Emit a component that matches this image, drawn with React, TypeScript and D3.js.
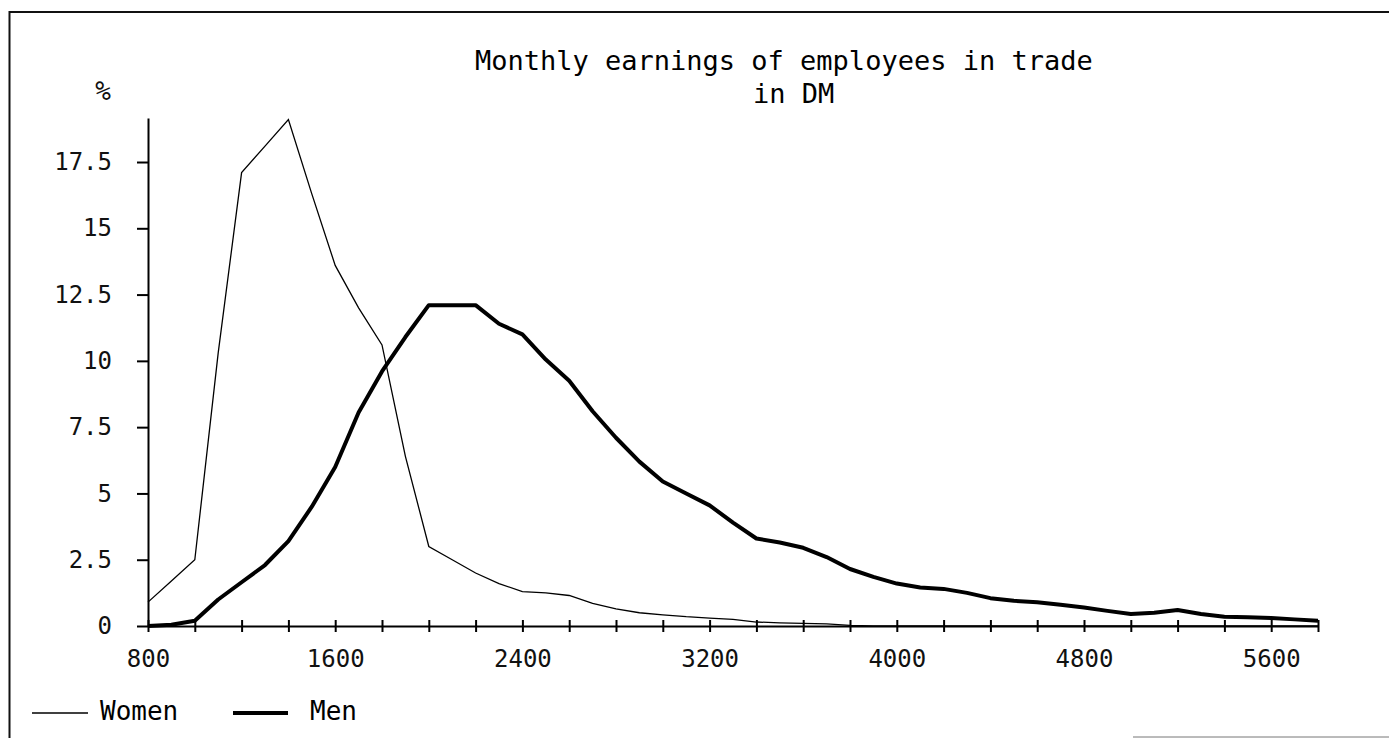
import { useEffect, useRef } from 'react';
import * as d3 from 'd3';

const W = 1389;
const H = 738;
const MONO = '"DejaVu Sans Mono", "Liberation Mono", monospace';

// monthly earnings in DM (x) and share of employees in % (y)
const earnings = [
  800, 900, 1000, 1100, 1200, 1300, 1400, 1500, 1600, 1700,
  1800, 1900, 2000, 2100, 2200, 2300, 2400, 2500, 2600, 2700,
  2800, 2900, 3000, 3100, 3200, 3300, 3400, 3500, 3600, 3700,
  3800, 3900, 4000, 4100, 4200, 4300, 4400, 4500, 4600, 4700,
  4800, 4900, 5000, 5100, 5200, 5300, 5400, 5500, 5600, 5700,
  5800,
];
const women = [
  0.9, 1.7, 2.5, 10.3, 17.1, 18.1, 19.1, 16.3, 13.6, 12.0,
  10.6, 6.4, 3.0, 2.5, 2.0, 1.6, 1.3, 1.25, 1.15, 0.85,
  0.65, 0.5, 0.42, 0.35, 0.3, 0.25, 0.15, 0.12, 0.1, 0.08,
  0.02, 0, 0, 0, 0, 0, 0, 0, 0, 0,
  0, 0, 0, 0, 0, 0, 0, 0, 0, 0,
  0,
];
const men = [
  0, 0.05, 0.2, 1.0, 1.65, 2.3, 3.2, 4.5, 6.0, 8.05,
  9.6, 10.9, 12.1, 12.1, 12.1, 11.4, 11.0, 10.05, 9.25, 8.1,
  7.1, 6.2, 5.45, 5.0, 4.55, 3.9, 3.3, 3.15, 2.95, 2.6,
  2.15, 1.85, 1.6, 1.45, 1.4, 1.25, 1.05, 0.95, 0.9, 0.8,
  0.7, 0.57, 0.45, 0.5, 0.6, 0.45, 0.35, 0.33, 0.3, 0.25,
  0.2,
];

const xTicks = [
  800, 1000, 1200, 1400, 1600, 1800, 2000, 2200, 2400, 2600, 2800, 3000, 3200,
  3400, 3600, 3800, 4000, 4200, 4400, 4600, 4800, 5000, 5200, 5400, 5600, 5800,
];
const xLabels = [800, 1600, 2400, 3200, 4000, 4800, 5600];
const yTicks = [0, 2.5, 5, 7.5, 10, 12.5, 15, 17.5];

export default function App() {
  const svgRef = useRef<SVGSVGElement>(null);

  useEffect(() => {
    document.body.style.margin = '0';
    const svg = d3.select(svgRef.current);
    svg.selectAll('*').remove();

    const x = d3.scaleLinear().domain([800, 5800]).range([148, 1318]);
    const y = d3.scaleLinear().domain([0, 19.16]).range([626, 118]);

    // frame
    svg.append('line').attr('x1', 9).attr('x2', W).attr('y1', 12).attr('y2', 12)
      .attr('stroke', '#111').attr('stroke-width', 2);
    svg.append('line').attr('x1', 9.5).attr('x2', 9.5).attr('y1', 11).attr('y2', H)
      .attr('stroke', '#111').attr('stroke-width', 2);
    svg.append('line').attr('x1', 1133).attr('x2', W).attr('y1', 737).attr('y2', 737)
      .attr('stroke', '#777').attr('stroke-width', 1);

    // title
    svg.append('text').attr('x', 475).attr('y', 70)
      .attr('font-family', MONO).attr('font-size', 27).attr('fill', '#000')
      .text('Monthly earnings of employees in trade');
    svg.append('text').attr('x', 753).attr('y', 103)
      .attr('font-family', MONO).attr('font-size', 27).attr('fill', '#000')
      .text('in DM');

    // unit
    svg.append('text').attr('x', 111).attr('y', 100).attr('text-anchor', 'end')
      .attr('font-family', MONO).attr('font-size', 26).attr('fill', '#111')
      .text('%');

    // x axis with crossing ticks
    svg.append('g')
      .attr('transform', 'translate(0,626)')
      .call(d3.axisBottom(x).tickValues(xTicks).tickSize(6).tickSizeOuter(0)
        .tickFormat(d => (xLabels.includes(+d) ? String(d) : '')))
      .call(ax => ax.select('.domain').attr('stroke', '#000').attr('stroke-width', 2))
      .call(ax => ax.selectAll('.tick line').attr('y1', -6).attr('y2', 6)
        .attr('stroke', '#000').attr('stroke-width', 2))
      .call(ax => ax.selectAll('.tick text').attr('y', 41).attr('dy', 0)
        .attr('fill', '#111').attr('font-size', 24).attr('font-family', MONO));

    // y axis
    svg.append('g')
      .attr('transform', 'translate(148,0)')
      .call(d3.axisLeft(y).tickValues(yTicks).tickSize(11).tickSizeOuter(0).tickPadding(25)
        .tickFormat(d => String(d)))
      .call(ax => ax.select('.domain').attr('stroke', '#000').attr('stroke-width', 2))
      .call(ax => ax.selectAll('.tick line').attr('stroke', '#000').attr('stroke-width', 2))
      .call(ax => ax.selectAll('.tick text')
        .attr('fill', '#111').attr('font-size', 24).attr('font-family', MONO));

    const line = d3.line<number>()
      .x((_, i) => x(earnings[i]))
      .y(d => y(d));

    svg.append('path').datum(women)
      .attr('d', line).attr('fill', 'none')
      .attr('stroke', '#000').attr('stroke-width', 1.3);

    svg.append('path').datum(men)
      .attr('d', line).attr('fill', 'none')
      .attr('stroke', '#000').attr('stroke-width', 4).attr('stroke-linejoin', 'round');

    // legend
    const legend = svg.append('g');
    legend.append('line').attr('x1', 32).attr('x2', 88).attr('y1', 713).attr('y2', 713)
      .attr('stroke', '#000').attr('stroke-width', 1.3);
    legend.append('text').attr('x', 100).attr('y', 720)
      .attr('font-family', MONO).attr('font-size', 26).attr('fill', '#000').text('Women');
    legend.append('line').attr('x1', 233).attr('x2', 288).attr('y1', 713).attr('y2', 713)
      .attr('stroke', '#000').attr('stroke-width', 4);
    legend.append('text').attr('x', 310).attr('y', 720)
      .attr('font-family', MONO).attr('font-size', 26).attr('fill', '#000').text('Men');
  }, []);

  return <svg ref={svgRef} width={W} height={H} style={{ display: 'block', background: '#fff' }} />;
}
